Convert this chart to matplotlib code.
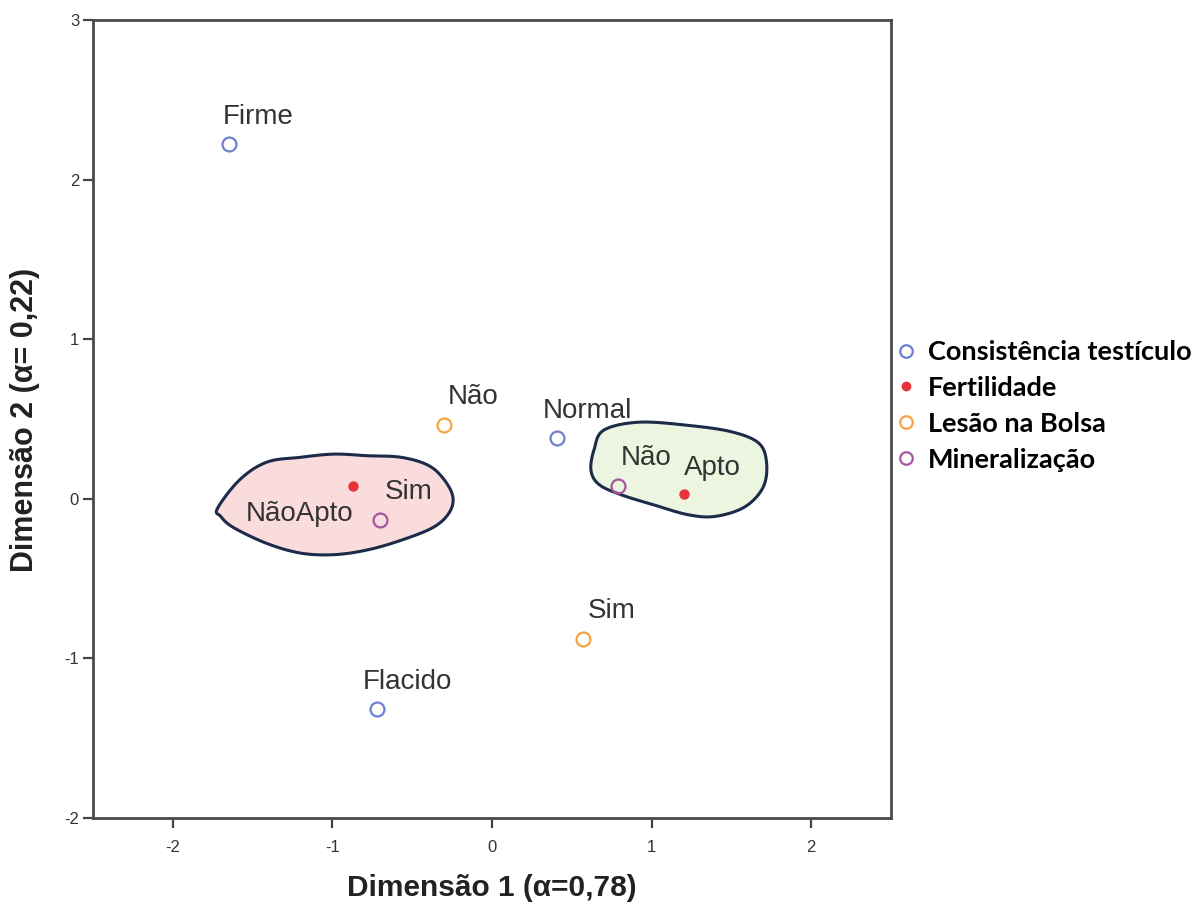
import numpy as np
import matplotlib
matplotlib.use("Agg")
import matplotlib.pyplot as plt
from matplotlib.lines import Line2D

# ---- data ----
cons_labels = ["Firme", "Normal", "Flacido"]
cons_x = [-1.65, 0.41, -0.72]
cons_y = [2.22, 0.38, -1.32]

fert_labels = ["NãoApto", "Apto"]
fert_x = [-0.87, 1.20]
fert_y = [0.08, 0.03]

lesao_labels = ["Não", "Sim"]
lesao_x = [-0.30, 0.57]
lesao_y = [0.46, -0.88]

miner_labels = ["Sim", "Não"]
miner_x = [-0.70, 0.79]
miner_y = [-0.13, 0.08]

legend_labels = ["Consistência testículo", "Fertilidade", "Lesão na Bolsa", "Mineralização"]
x_ticks = [-2, -1, 0, 1, 2]
y_ticks = [-2, -1, 0, 1, 2, 3]

# group outlines (annotation shapes)
pink_x = [-1.72, -1.58, -1.41, -1.20, -0.99, -0.78, -0.57, -0.40, -0.30, -0.245,
          -0.27, -0.37, -0.57, -0.78, -0.99, -1.20, -1.41, -1.62, -1.70]
pink_y = [-0.06, 0.12, 0.23, 0.26, 0.28, 0.27, 0.26, 0.21, 0.12, 0.01,
          -0.09, -0.18, -0.26, -0.32, -0.35, -0.34, -0.28, -0.18, -0.11]
green_x = [0.70, 0.92, 1.23, 1.50, 1.67, 1.72, 1.70, 1.585, 1.40, 1.23, 1.02, 0.81, 0.67, 0.62, 0.64]
green_y = [0.43, 0.48, 0.46, 0.42, 0.35, 0.23, 0.075, -0.05, -0.11, -0.10, -0.04, 0.025, 0.09, 0.18, 0.31]

c_cons = "#6b80d0"
c_fert = "#e8333b"
c_les = "#f5a540"
c_min = "#a4559e"


def closed_spline(xs, ys, n=20):
    p = np.column_stack([xs, ys])
    m = len(p)
    out = []
    t = np.linspace(0, 1, n, endpoint=False)[:, None]
    for i in range(m):
        p0, p1, p2, p3 = p[(i - 1) % m], p[i], p[(i + 1) % m], p[(i + 2) % m]
        seg = 0.5 * ((2 * p1) + (-p0 + p2) * t + (2 * p0 - 5 * p1 + 4 * p2 - p3) * t ** 2
                     + (-p0 + 3 * p1 - 3 * p2 + p3) * t ** 3)
        out.append(seg)
    out = np.vstack(out)
    out = np.vstack([out, out[:1]])
    return out[:, 0], out[:, 1]


fig = plt.figure(figsize=(12, 9.07), dpi=100)
ax = fig.add_axes([93 / 1200, 89 / 907, 798 / 1200, 798 / 907])
ax.set_xlim(-2.5, 2.5)
ax.set_ylim(-2, 3)

for xs, ys, fc in [(pink_x, pink_y, "#fbdcdc"), (green_x, green_y, "#ebf5df")]:
    sx, sy = closed_spline(xs, ys)
    ax.fill(sx, sy, facecolor=fc, edgecolor="#1c2b4a", linewidth=2.2, zorder=1)

ms = 10
ax.plot(cons_x, cons_y, "o", ms=ms, mfc="none", mec=c_cons, mew=1.6, ls="none", zorder=3)
ax.plot(lesao_x, lesao_y, "o", ms=ms, mfc="none", mec=c_les, mew=1.6, ls="none", zorder=3)
ax.plot(miner_x, miner_y, "o", ms=ms, mfc="none", mec=c_min, mew=1.6, ls="none", zorder=3)
ax.plot(fert_x, fert_y, "o", ms=6.5, mfc=c_fert, mec=c_fert, mew=1, ls="none", zorder=3)

lab_kw = dict(textcoords="offset pixels", ha="center", va="center", fontsize=20,
              family="Liberation Sans", color="#333333", zorder=4)
for lx, ly, lab in zip(cons_x, cons_y, cons_labels):
    ax.annotate(lab, (lx, ly), xytext=(30, 27), **lab_kw)
for lx, ly, lab in zip(lesao_x, lesao_y, lesao_labels):
    ax.annotate(lab, (lx, ly), xytext=(29, 28), **lab_kw)
for lx, ly, lab in zip(miner_x, miner_y, miner_labels):
    ax.annotate(lab, (lx, ly), xytext=(28, 28), **lab_kw)
ax.annotate(fert_labels[0], (fert_x[0], fert_y[0]), xytext=(-54, -28), **lab_kw)
ax.annotate(fert_labels[1], (fert_x[1], fert_y[1]), xytext=(29, 26), **lab_kw)

ax.set_xticks(x_ticks)
ax.set_yticks(y_ticks)
ax.set_xticklabels([str(v) for v in x_ticks])
ax.set_yticklabels([str(v) for v in y_ticks])
ax.tick_params(direction="out", length=7, width=1.6, color="#444444",
               labelsize=12, labelcolor="#333333")
ax.tick_params(axis="x", pad=9)
ax.tick_params(axis="y", pad=3)
for lbl in ax.get_xticklabels() + ax.get_yticklabels():
    lbl.set_family("Liberation Sans")
for sp in ax.spines.values():
    sp.set_color("#4a4a4a")
    sp.set_linewidth(2)

fig.text(492 / 1200, 1 - 888 / 907, "Dimensão 1 (α=0,78)", fontsize=21.5, fontweight="bold",
         family="Liberation Sans", color="#222222", ha="center", va="center")
fig.text(25 / 1200, 1 - 420 / 907, "Dimensão 2 (α= 0,22)", fontsize=22, fontweight="bold",
         family="Liberation Sans", color="#222222", ha="center", va="center", rotation=90)

handles = [
    Line2D([], [], marker="o", ls="none", ms=9, mfc="none", mec=c_cons, mew=1.6),
    Line2D([], [], marker="o", ls="none", ms=6, mfc=c_fert, mec=c_fert),
    Line2D([], [], marker="o", ls="none", ms=9, mfc="none", mec=c_les, mew=1.6),
    Line2D([], [], marker="o", ls="none", ms=9, mfc="none", mec=c_min, mew=1.6),
]
fig.legend(handles, legend_labels, loc="upper left", bbox_to_anchor=(897 / 1200, 1 - 340 / 907),
           frameon=False, handlelength=0.7, handletextpad=0.45, labelspacing=0.44,
           borderaxespad=0, borderpad=0,
           prop={"family": "Lato", "weight": "bold", "size": 19.5})

fig.savefig("out.png", dpi=100)
